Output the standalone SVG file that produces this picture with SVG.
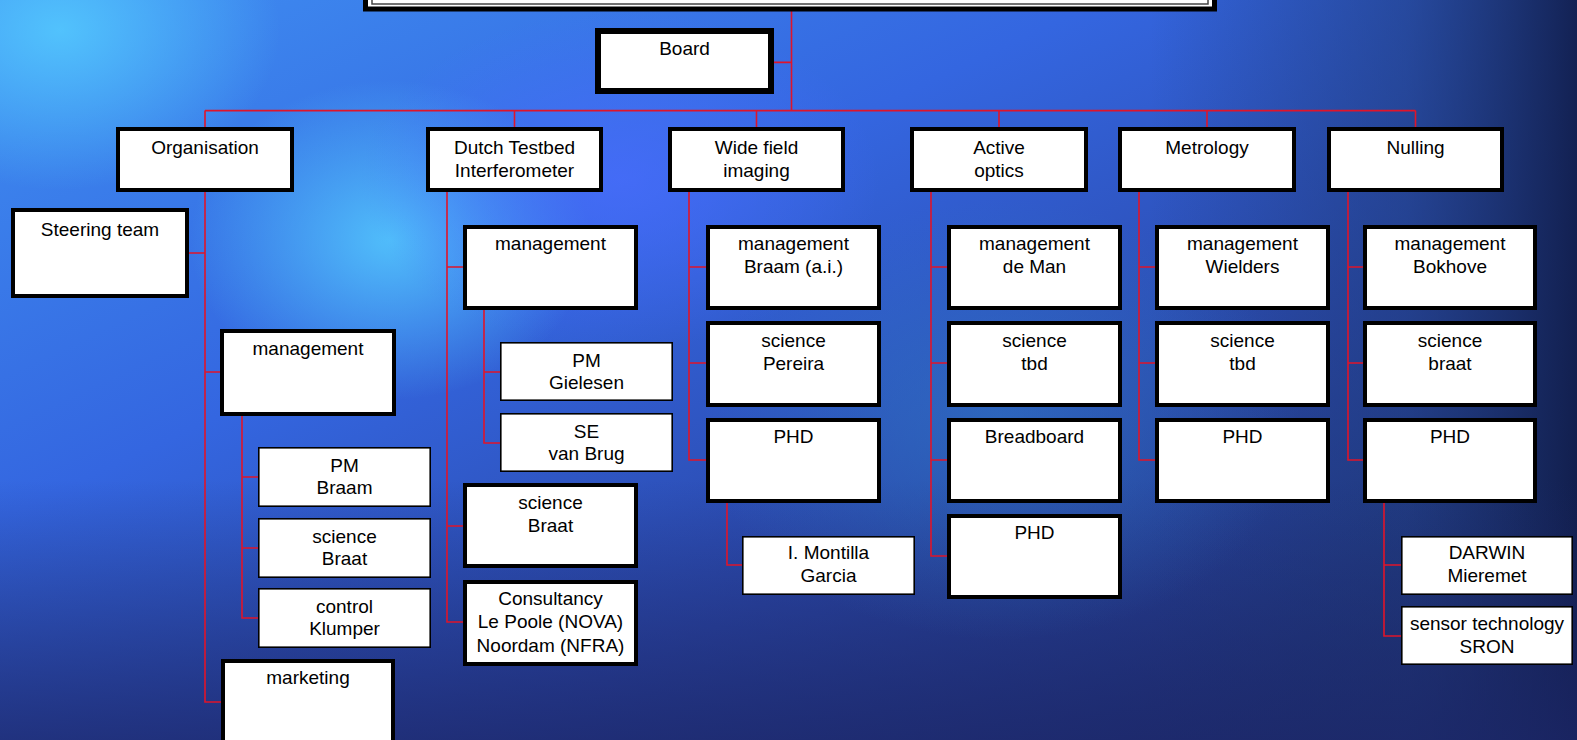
<svg xmlns="http://www.w3.org/2000/svg" width="1577" height="740" viewBox="0 0 1577 740">
<style>
.t{font-family:"Liberation Sans",Arial,Helvetica,sans-serif;font-size:19px;fill:#000;text-anchor:middle}
.b{fill:#fff;stroke:#000;stroke-width:4}
.bt{fill:#fff;stroke:#000;stroke-width:1.6}
.c{stroke:#e0142a;stroke-width:1.6;fill:none}
</style>
<defs>
<linearGradient id="bg" x1="0" y1="0" x2="1" y2="1">
<stop offset="0" stop-color="#3f8ff2"/>
<stop offset="0.35" stop-color="#3466e0"/>
<stop offset="0.65" stop-color="#2a47a8"/>
<stop offset="1" stop-color="#1a2a62"/>
</linearGradient>
<linearGradient id="right" x1="0" y1="0" x2="1" y2="0">
<stop offset="0" stop-color="#1e3a78" stop-opacity="0"/>
<stop offset="0.6" stop-color="#1e3a78" stop-opacity="0.55"/>
<stop offset="1" stop-color="#101c48" stop-opacity="0.9"/>
</linearGradient>
<linearGradient id="bottom" x1="0" y1="0" x2="0" y2="1">
<stop offset="0" stop-color="#1c2668" stop-opacity="0"/>
<stop offset="1" stop-color="#1c2668" stop-opacity="0.75"/>
</linearGradient>
<radialGradient id="g1" cx="0.5" cy="0.5" r="0.5"><stop offset="0" stop-color="#55ccff" stop-opacity="0.85"/><stop offset="1" stop-color="#55ccff" stop-opacity="0"/></radialGradient>
<radialGradient id="g2" cx="0.5" cy="0.5" r="0.5"><stop offset="0" stop-color="#4a6cff" stop-opacity="0.7"/><stop offset="1" stop-color="#4a6cff" stop-opacity="0"/></radialGradient>
<radialGradient id="g4" cx="0.5" cy="0.5" r="0.5"><stop offset="0" stop-color="#2f7fc8" stop-opacity="0.5"/><stop offset="1" stop-color="#2f7fc8" stop-opacity="0"/></radialGradient>
</defs>
<g id="background">
<rect x="0" y="0" width="1577" height="740" fill="url(#bg)"/>
<rect x="1150" y="0" width="427" height="740" fill="url(#right)"/>
<rect x="0" y="480" width="1577" height="260" fill="url(#bottom)"/>
<ellipse cx="60" cy="30" rx="220" ry="160" fill="url(#g1)"/>
<ellipse cx="390" cy="240" rx="200" ry="160" fill="url(#g1)"/>
<ellipse cx="620" cy="180" rx="260" ry="170" fill="url(#g2)"/>
<ellipse cx="1000" cy="420" rx="300" ry="220" fill="url(#g4)"/>
</g>
<g id="connectors">
<path class="c" d="M791.5 10V110.6M774 62.4H791.5M205 110.6H1415.5M205 110.6V127M514.5 110.6V127M756.5 110.6V127M999 110.6V127M1207 110.6V127M1415.5 110.6V127"/>
<path class="c" d="M205 192V702H221M189 253H205M205 372H220"/>
<path class="c" d="M242 416V618H258M242 477H258M242 548H258"/>
<path class="c" d="M447 192V622H463M447 267H463M447 526H463"/>
<path class="c" d="M484 310V443H500M484 372H500"/>
<path class="c" d="M689 192V460H706M689 267H706M689 363H706"/>
<path class="c" d="M727 503V565H742"/>
<path class="c" d="M931 192V556H947M931 267H947M931 363H947M931 460H947"/>
<path class="c" d="M1139 192V460H1155M1139 267H1155M1139 363H1155"/>
<path class="c" d="M1348 192V460H1363M1348 267H1363M1348 363H1363"/>
<path class="c" d="M1384 503V636H1401M1384 565H1401"/>
</g>
<g id="title">
<rect x="365.5" y="-30" width="849" height="39" fill="#fff" stroke="#000" stroke-width="5"/>
<rect x="372" y="-30" width="836" height="34" fill="none" stroke="#444" stroke-width="1.5"/>
</g>
<g id="board"><rect x="598" y="31" width="173" height="60" fill="#fff" stroke="#000" stroke-width="6"/><text class="t" x="684.5" y="55">Board</text></g>
<g id="organisation"><rect class="b" x="118" y="129" width="174" height="61"/><text class="t" x="205" y="154">Organisation</text></g>
<g id="dti"><rect class="b" x="428" y="129" width="173" height="61"/><text class="t" x="514.5" y="154">Dutch Testbed</text><text class="t" x="514.5" y="177">Interferometer</text></g>
<g id="wfi"><rect class="b" x="670" y="129" width="173" height="61"/><text class="t" x="756.5" y="154">Wide field</text><text class="t" x="756.5" y="177">imaging</text></g>
<g id="ao"><rect class="b" x="912" y="129" width="174" height="61"/><text class="t" x="999" y="154">Active</text><text class="t" x="999" y="177">optics</text></g>
<g id="metrology"><rect class="b" x="1120" y="129" width="174" height="61"/><text class="t" x="1207" y="154">Metrology</text></g>
<g id="nulling"><rect class="b" x="1329" y="129" width="173" height="61"/><text class="t" x="1415.5" y="154">Nulling</text></g>

<g id="org-steering"><rect class="b" x="13" y="210" width="174" height="86"/><text class="t" x="100" y="236">Steering team</text></g>
<g id="org-management"><rect class="b" x="222" y="331" width="172" height="83"/><text class="t" x="308" y="355">management</text></g>
<g id="org-pm"><rect class="bt" x="258.8" y="447.8" width="171.4" height="58.4"/><text class="t" x="344.5" y="472">PM</text><text class="t" x="344.5" y="494">Braam</text></g>
<g id="org-science"><rect class="bt" x="258.8" y="518.8" width="171.4" height="58.4"/><text class="t" x="344.5" y="543">science</text><text class="t" x="344.5" y="565">Braat</text></g>
<g id="org-control"><rect class="bt" x="258.8" y="588.8" width="171.4" height="58.4"/><text class="t" x="344.5" y="613">control</text><text class="t" x="344.5" y="635">Klumper</text></g>
<g id="org-marketing"><rect class="b" x="223" y="661" width="170" height="100"/><text class="t" x="308" y="684">marketing</text></g>

<g id="dti-management"><rect class="b" x="465" y="227" width="171" height="81"/><text class="t" x="550.5" y="250">management</text></g>
<g id="dti-pm"><rect class="bt" x="500.8" y="342.8" width="171.4" height="57.4"/><text class="t" x="586.5" y="367">PM</text><text class="t" x="586.5" y="389">Gielesen</text></g>
<g id="dti-se"><rect class="bt" x="500.8" y="413.8" width="171.4" height="57.4"/><text class="t" x="586.5" y="438">SE</text><text class="t" x="586.5" y="460">van Brug</text></g>
<g id="dti-science"><rect class="b" x="465" y="485" width="171" height="81"/><text class="t" x="550.5" y="509">science</text><text class="t" x="550.5" y="532">Braat</text></g>
<g id="dti-consultancy"><rect class="b" x="465" y="582" width="171" height="82"/><text class="t" x="550.5" y="605">Consultancy</text><text class="t" x="550.5" y="628">Le Poole (NOVA)</text><text class="t" x="550.5" y="652">Noordam (NFRA)</text></g>

<g id="wfi-management"><rect class="b" x="708" y="227" width="171" height="81"/><text class="t" x="793.5" y="250">management</text><text class="t" x="793.5" y="273">Braam (a.i.)</text></g>
<g id="wfi-science"><rect class="b" x="708" y="323" width="171" height="82"/><text class="t" x="793.5" y="347">science</text><text class="t" x="793.5" y="370">Pereira</text></g>
<g id="wfi-phd"><rect class="b" x="708" y="420" width="171" height="81"/><text class="t" x="793.5" y="443">PHD</text></g>
<g id="wfi-montilla"><rect class="bt" x="742.8" y="536.8" width="171.4" height="57.4"/><text class="t" x="828.5" y="559">I. Montilla</text><text class="t" x="828.5" y="582">Garcia</text></g>

<g id="ao-management"><rect class="b" x="949" y="227" width="171" height="81"/><text class="t" x="1034.5" y="250">management</text><text class="t" x="1034.5" y="273">de Man</text></g>
<g id="ao-science"><rect class="b" x="949" y="323" width="171" height="82"/><text class="t" x="1034.5" y="347">science</text><text class="t" x="1034.5" y="370">tbd</text></g>
<g id="ao-breadboard"><rect class="b" x="949" y="420" width="171" height="81"/><text class="t" x="1034.5" y="443">Breadboard</text></g>
<g id="ao-phd"><rect class="b" x="949" y="516" width="171" height="81"/><text class="t" x="1034.5" y="539">PHD</text></g>

<g id="met-management"><rect class="b" x="1157" y="227" width="171" height="81"/><text class="t" x="1242.5" y="250">management</text><text class="t" x="1242.5" y="273">Wielders</text></g>
<g id="met-science"><rect class="b" x="1157" y="323" width="171" height="82"/><text class="t" x="1242.5" y="347">science</text><text class="t" x="1242.5" y="370">tbd</text></g>
<g id="met-phd"><rect class="b" x="1157" y="420" width="171" height="81"/><text class="t" x="1242.5" y="443">PHD</text></g>

<g id="null-management"><rect class="b" x="1365" y="227" width="170" height="81"/><text class="t" x="1450" y="250">management</text><text class="t" x="1450" y="273">Bokhove</text></g>
<g id="null-science"><rect class="b" x="1365" y="323" width="170" height="82"/><text class="t" x="1450" y="347">science</text><text class="t" x="1450" y="370">braat</text></g>
<g id="null-phd"><rect class="b" x="1365" y="420" width="170" height="81"/><text class="t" x="1450" y="443">PHD</text></g>
<g id="null-darwin"><rect class="bt" x="1401.8" y="536.8" width="170.4" height="57.4"/><text class="t" x="1487" y="559">DARWIN</text><text class="t" x="1487" y="582">Mieremet</text></g>
<g id="null-sensor"><rect class="bt" x="1401.8" y="606.8" width="170.4" height="57.4"/><text class="t" x="1487" y="630">sensor technology</text><text class="t" x="1487" y="653">SRON</text></g>
</svg>
